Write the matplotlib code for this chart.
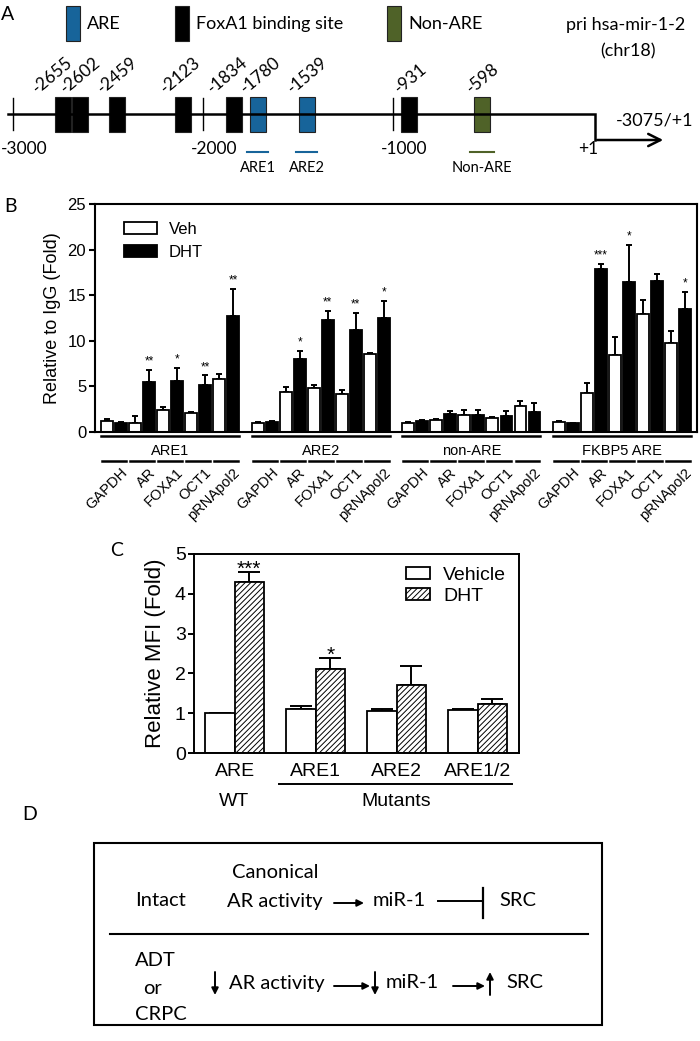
import numpy as np
import matplotlib.pyplot as plt
from matplotlib.patches import Rectangle, Patch

W, H = 700, 1041

# ---------------- panel A: promoter map ----------------
legend_a = ['ARE', 'FoxA1 binding site', 'Non-ARE']
site_labels = ['-2655', '-2602', '-2459', '-2123', '-1834', '-1780', '-1539', '-931', '-598']
site_draw = [-2737, -2647, -2453, -2105, -1837, -1711, -1453, -916, -532]   # schematic positions
site_kind = ['fox', 'fox', 'fox', 'fox', 'fox', 'are', 'are', 'fox', 'non']
scale_pos = [-3000, -2000, -1000]
scale_labels = ['-3000', '-2000', '-1000']
tss_pos = 63
region_labels = ['ARE1', 'ARE2', 'Non-ARE']
region_pos = [-1711, -1453, -532]
region_kind = ['are', 'are', 'non']

# ---------------- panel B: ChIP ----------------
targets = ['GAPDH', 'AR', 'FOXA1', 'OCT1', 'pRNApol2']
regions_b = ['ARE1', 'ARE2', 'non-ARE', 'FKBP5 ARE']
veh_b = [[1.2, 0.95, 2.4, 2.05, 5.85],
         [1.0, 4.4, 4.85, 4.15, 8.55],
         [1.0, 1.35, 1.9, 1.55, 2.85],
         [1.1, 4.3, 8.45, 12.9, 9.75]]
veh_b_err = [[0.2, 0.8, 0.35, 0.1, 0.55],
             [0.05, 0.5, 0.25, 0.45, 0.1],
             [0.05, 0.1, 0.55, 0.05, 0.6],
             [0.1, 1.05, 2.0, 1.6, 1.3]]
dht_b = [[1.0, 5.5, 5.6, 5.2, 12.7],
         [1.15, 8.0, 12.25, 11.2, 12.5],
         [1.25, 1.95, 1.85, 1.8, 2.2],
         [0.95, 17.9, 16.5, 16.6, 13.5]]
dht_b_err = [[0.05, 1.3, 1.4, 1.0, 3.0],
             [0.1, 0.85, 1.05, 1.9, 1.85],
             [0.1, 0.4, 0.6, 0.55, 0.95],
             [0.05, 0.5, 4.0, 0.7, 1.9]]
stars_b = [['', '**', '*', '**', '**'],
           ['', '*', '**', '**', '*'],
           ['', '', '', '', ''],
           ['', '***', '*', '', '*']]

# ---------------- panel C: reporter ----------------
constructs = ['ARE', 'ARE1', 'ARE2', 'ARE1/2']
veh_c = [1.0, 1.1, 1.06, 1.08]
veh_c_err = [0.0, 0.08, 0.04, 0.03]
dht_c = [4.3, 2.12, 1.72, 1.23]
dht_c_err = [0.25, 0.27, 0.46, 0.12]
stars_c = ['***', '*', '', '']

ARIAL = 'Liberation Sans'
CALIBRI = 'Lato'
BLUE = '#17649a'
GREEN = '#4f6228'

plt.rcParams['hatch.linewidth'] = 0.7


def rect(x0, y0, x1, y1):
    return [x0 / W, 1 - y1 / H, (x1 - x0) / W, (y1 - y0) / H]


fig = plt.figure(figsize=(W / 100, H / 100), dpi=100)

# overlay in pixel coordinates for letters and the diagram
ov = fig.add_axes([0, 0, 1, 1])
ov.set_xlim(0, W)
ov.set_ylim(H, 0)
ov.axis('off')
for letter, (lx, ly) in zip('ABCD', [(8, 14), (11, 206), (117, 551), (30, 815)]):
    ov.text(lx, ly, letter, fontsize=14, family=CALIBRI, ha='center', va='center')

# ==========================================
# A
# ==========================================
PX0, BP_PX = 13, 0.19
bp = lambda px: (px - PX0) / BP_PX - 3000
axA = fig.add_axes(rect(0, 0, 700, 195))
axA.set_xlim(bp(0), bp(700))
axA.set_ylim(195, 0)
axA.axis('off')

colors_a = {'are': BLUE, 'fox': 'black', 'non': GREEN}
for name, kind, px in zip(legend_a, ['are', 'fox', 'non'], [66, 175, 387]):
    axA.add_patch(Rectangle((bp(px), 6), 14 / BP_PX, 35, facecolor=colors_a[kind], edgecolor='#222222', lw=0.8))
    axA.text(bp(px + 21), 24, name, fontsize=13, family=CALIBRI, va='center')
axA.text(bp(626), 25, 'pri hsa-mir-1-2', fontsize=13, family=CALIBRI, ha='center', va='center')
axA.text(bp(628), 51, '(chr18)', fontsize=13, family=CALIBRI, ha='center', va='center')

LINE_Y = 114
axA.plot([bp(8), tss_pos, tss_pos], [LINE_Y, LINE_Y, 140], color='black', lw=1.8, solid_joinstyle='miter')
axA.annotate('', xy=(bp(666), 140), xytext=(tss_pos - 3, 140),
             arrowprops=dict(arrowstyle='->', lw=1.8, mutation_scale=22, color='black'))
axA.text(bp(655), 121, '-3075/+1', fontsize=13, family=CALIBRI, ha='center', va='center')
for p, lab in zip(scale_pos, scale_labels):
    axA.plot([p, p], [98, 130], color='black', lw=1.0)
    axA.text(p + 60, 149, lab, fontsize=12.5, family=CALIBRI, ha='center', va='center')
axA.text(tss_pos - 35, 149, '+1', fontsize=12.5, family=CALIBRI, ha='center', va='center')

# label anchors sit left of each box; a few are nudged to avoid overlap
label_shift_px = [-23, -12, -12, -15, -19, -10, -12, -7, -8]
for p, lab, kind, sh in zip(site_draw, site_labels, site_kind, label_shift_px):
    axA.add_patch(Rectangle((p - 42, 97), 84, 35, facecolor=colors_a[kind], edgecolor='#222222', lw=0.8))
    axA.text(p + sh / BP_PX, 96, lab, fontsize=12.5, family=CALIBRI, rotation=40,
             ha='left', va='bottom', rotation_mode='anchor')

for p, lab, kind in zip(region_pos, region_labels, region_kind):
    half = 55 if kind == 'are' else 65
    axA.plot([p - half, p + half], [152, 152], color=colors_a[kind], lw=1.5)
    axA.text(p, 168, lab, fontsize=10.5, family=CALIBRI, ha='center', va='center')

# ==========================================
# B
# ==========================================
SLOT_GROUP = 10.75
axB = fig.add_axes(rect(94.5, 204, 697, 432))
trB = axB.get_xaxis_transform()
axB.set_ylim(0, 25)
axB.set_xlim(-0.89, 42.1)
for s in axB.spines.values():
    s.set_linewidth(1.5)
axB.set_yticks([0, 5, 10, 15, 20, 25])
axB.tick_params(axis='y', labelsize=12, width=1.5, length=4, pad=2)
axB.set_xticks([])
for lab in axB.get_yticklabels():
    lab.set_family(ARIAL)
axB.set_ylabel('Relative to IgG (Fold)', fontsize=13, family=ARIAL, labelpad=5)

bw = 0.84
for g in range(4):
    xs = np.array([g * SLOT_GROUP + t * 2 for t in range(5)])
    axB.bar(xs, veh_b[g], bw, color='white', edgecolor='black', lw=1.3, zorder=2)
    axB.bar(xs + 1, dht_b[g], bw, color='black', edgecolor='black', lw=1.3, zorder=2)
    axB.errorbar(xs, veh_b[g], yerr=[np.zeros(5), veh_b_err[g]], fmt='none',
                 ecolor='black', elinewidth=1.4, capsize=2.5, capthick=1.4, zorder=1)
    axB.errorbar(xs + 1, dht_b[g], yerr=[np.zeros(5), dht_b_err[g]], fmt='none',
                 ecolor='black', elinewidth=1.4, capsize=2.5, capthick=1.4, zorder=1)
    for t in range(5):
        if stars_b[g][t]:
            axB.text(xs[t] + 1, dht_b[g][t] + dht_b_err[g][t] + 0.6, stars_b[g][t],
                     fontsize=8.5, family=ARIAL, ha='center', va='baseline')
    # group underline and label
    axB.plot([xs[0] - bw / 2, xs[-1] + 1 + bw / 2], [-0.018, -0.018], transform=trB,
             color='black', lw=1.8, clip_on=False)
    axB.text(xs.mean() + 0.5, -0.082, regions_b[g], transform=trB, fontsize=10.5,
             family=ARIAL, ha='center', va='center')
    for t in range(5):
        axB.plot([xs[t] - 0.35, xs[t] + 1.35], [-0.127, -0.127], transform=trB,
                 color='black', lw=1.8, clip_on=False)
        axB.text(xs[t] + 0.95, -0.147, targets[t], transform=trB, fontsize=10.5,
                 family=ARIAL, rotation=45, ha='right', va='top', rotation_mode='anchor')

handles_b = [Patch(facecolor='white', edgecolor='black', lw=1.3),
             Patch(facecolor='black', edgecolor='black', lw=1.3)]
legB = axB.legend(handles_b, ['Veh', 'DHT'], loc='upper left', bbox_to_anchor=(0.038, 0.95),
                  frameon=False, handlelength=2.0, handleheight=0.75, labelspacing=0.45,
                  handletextpad=0.7, borderaxespad=0, prop={'family': ARIAL, 'size': 12})

# ==========================================
# C
# ==========================================
axC = fig.add_axes(rect(194, 554, 519, 753))
trC = axC.get_xaxis_transform()
axC.set_ylim(0, 5)
axC.set_xlim(-0.5, 3.51)
for s in axC.spines.values():
    s.set_linewidth(1.4)
xc = np.arange(4)
cw = 0.362
axC.bar(xc - cw / 2, veh_c, cw, color='white', edgecolor='black', lw=1.3, zorder=2)
axC.bar(xc + cw / 2, dht_c, cw, color='white', edgecolor='black', hatch='//////', lw=1.3, zorder=2)
axC.errorbar(xc - cw / 2, veh_c, yerr=[np.zeros(4), veh_c_err], fmt='none', ecolor='black',
             elinewidth=1.4, capsize=8, capthick=1.4, zorder=1)
axC.errorbar(xc + cw / 2, dht_c, yerr=[np.zeros(4), dht_c_err], fmt='none', ecolor='black',
             elinewidth=1.4, capsize=8, capthick=1.4, zorder=1)
for i in range(4):
    if stars_c[i]:
        axC.text(xc[i] + cw / 2, dht_c[i] + dht_c_err[i] - 0.08, stars_c[i], fontsize=15,
                 family=ARIAL, ha='center', va='baseline')
axC.set_yticks(range(6))
axC.tick_params(axis='y', labelsize=14, width=1.4, length=4, pad=2)
axC.set_xticks(xc)
axC.set_xticklabels(constructs, fontsize=14, family=ARIAL)
axC.tick_params(axis='x', length=0, pad=7)
for lab in axC.get_yticklabels():
    lab.set_family(ARIAL)
axC.set_ylabel('Relative MFI (Fold)', fontsize=16, family=ARIAL, labelpad=6)
axC.text(0, -0.245, 'WT', transform=trC, fontsize=14, family=ARIAL, ha='center', va='center')
axC.text(2, -0.245, 'Mutants', transform=trC, fontsize=14, family=ARIAL, ha='center', va='center')
axC.plot([0.55, 3.42], [-0.155, -0.155], transform=trC, color='black', lw=1.4, clip_on=False)
handles_c = [Patch(facecolor='white', edgecolor='black', lw=1.3),
             Patch(facecolor='white', edgecolor='black', hatch='//////', lw=1.3)]
axC.legend(handles_c, ['Vehicle', 'DHT'], loc='upper right', bbox_to_anchor=(0.985, 0.975),
           frameon=False, handlelength=1.2, handleheight=0.6, labelspacing=0.2,
           handletextpad=0.7, borderaxespad=0, prop={'family': ARIAL, 'size': 14})

# ==========================================
# D  (diagram, pixel coordinates)
# ==========================================
ov.add_patch(Rectangle((94, 843), 508, 182, facecolor='none', edgecolor='black', lw=1.5))
ov.plot([110, 588], [934, 934], color='black', lw=1.5)
dkw = dict(fontsize=14.5, family=CALIBRI, va='center', ha='left')
ov.text(232, 872, 'Canonical', **dkw)
ov.text(135, 901, 'Intact', **dkw)
ov.text(227, 901, 'AR activity', **dkw)
ov.text(373, 901, 'miR-1', **dkw)
ov.text(499, 901, 'SRC', **dkw)
ov.text(135, 961, 'ADT', **dkw)
ov.text(143, 988, 'or', **dkw)
ov.text(135, 1015, 'CRPC', **dkw)
ov.text(229, 983, 'AR activity', **dkw)
ov.text(386, 983, 'miR-1', **dkw)
ov.text(506, 983, 'SRC', **dkw)

akw = dict(arrowstyle='-|>', lw=1.4, mutation_scale=10, color='black', shrinkA=0, shrinkB=0)
for x0, x1, y in [(334, 364, 903), (334, 370, 986), (453, 485, 986)]:
    ov.annotate('', xy=(x1, y), xytext=(x0, y), arrowprops=akw)
for x, down in [(215, True), (375, True), (490, False)]:
    y0, y1 = (972, 995) if down else (995, 972)
    ov.annotate('', xy=(x, y1), xytext=(x, y0), arrowprops=akw)
ov.plot([438, 483], [901, 901], color='black', lw=1.4)
ov.plot([483, 483], [888, 918], color='black', lw=1.6)

fig.savefig('out.png', dpi=100)
